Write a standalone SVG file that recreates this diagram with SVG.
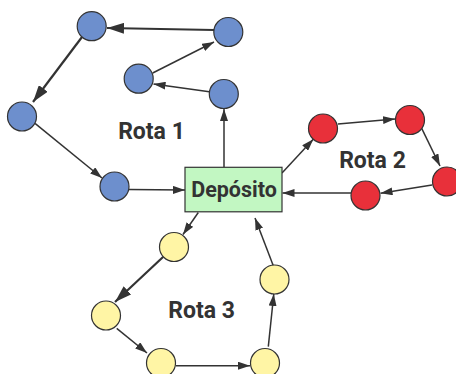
<svg xmlns="http://www.w3.org/2000/svg" width="456" height="374" viewBox="0 0 456 374">
  <style>
    .node { stroke: #333; stroke-width: 1.2; }
    .blue { fill: #6d8fcd; }
    .red { fill: #e8303a; }
    .yellow { fill: #fff5a5; }
    .depot { fill: #c2f7c2; stroke: #333; stroke-width: 1.2; }
    .edge { fill: none; stroke: #333; stroke-width: 1.5; marker-end: url(#arrow); }
    .edge.bold { stroke-width: 2.2; marker-end: url(#arrow-big); }
    .label { font-family: Roboto, "Liberation Sans", sans-serif; font-weight: bold; fill: #333; }
  </style>
  <defs>
    <marker id="arrow" markerUnits="userSpaceOnUse" markerWidth="12" markerHeight="8" refX="12" refY="4" orient="auto">
      <path d="M0,0 L12,4 L0,8 z" fill="#333"/>
    </marker>
    <marker id="arrow-big" markerUnits="userSpaceOnUse" markerWidth="17" markerHeight="11" refX="17" refY="5.5" orient="auto">
      <path d="M0,0 L17,5.5 L0,11 z" fill="#333"/>
    </marker>
  </defs>

  <rect width="456" height="374" fill="#fff"/>

  <g id="connectors">
    <!-- Rota 1 (blue) -->
    <line class="edge" x1="224" y1="167" x2="224" y2="109"/>
    <line class="edge" x1="209.3" y1="91.7" x2="153.5" y2="84"/>
    <line class="edge" x1="152.7" y1="73" x2="214" y2="42"/>
    <line class="edge bold" x1="214" y1="30" x2="107" y2="28"/>
    <line class="edge bold" x1="82" y1="37" x2="33" y2="102"/>
    <line class="edge" x1="35" y1="123.3" x2="102" y2="178"/>
    <line class="edge" x1="129" y1="189.5" x2="185" y2="190"/>
    <!-- Rota 2 (red) -->
    <line class="edge" x1="282" y1="173" x2="313.3" y2="139.3"/>
    <line class="edge" x1="338" y1="124" x2="395" y2="119"/>
    <line class="edge" x1="421.7" y1="128.3" x2="440" y2="166"/>
    <line class="edge" x1="432" y1="185" x2="380.5" y2="193.3"/>
    <line class="edge" x1="351" y1="193" x2="282.5" y2="193"/>
    <!-- Rota 3 (yellow) -->
    <line class="edge" x1="198.3" y1="212.5" x2="183" y2="234.5"/>
    <line class="edge bold" x1="163.3" y1="256.7" x2="115" y2="302"/>
    <line class="edge" x1="116.7" y1="328.3" x2="147" y2="353"/>
    <line class="edge" x1="176" y1="365.7" x2="250" y2="365.7"/>
    <line class="edge" x1="268.3" y1="346.7" x2="273.8" y2="294"/>
    <line class="edge" x1="273.3" y1="265.7" x2="255" y2="218"/>
  </g>

  <g id="depot">
    <rect class="depot" x="185" y="167.3" width="97" height="44.5"/>
    <text class="label" x="234" y="197.2" font-size="21.5" text-anchor="middle">Depósito</text>
  </g>

  <g id="rota1">
    <circle id="b1" class="node blue" cx="91.7" cy="26.2" r="14.5"/>
    <circle id="b2" class="node blue" cx="228.3" cy="32" r="14.5"/>
    <circle id="b3" class="node blue" cx="138.7" cy="78.7" r="14.5"/>
    <circle id="b4" class="node blue" cx="223.8" cy="94" r="14.5"/>
    <circle id="b5" class="node blue" cx="22" cy="116.5" r="14.5"/>
    <circle id="b6" class="node blue" cx="114.5" cy="186.5" r="14.5"/>
    <text class="label" x="151.5" y="139.3" font-size="23" text-anchor="middle">Rota 1</text>
  </g>

  <g id="rota2">
    <circle id="r1" class="node red" cx="323" cy="128.5" r="14.5"/>
    <circle id="r2" class="node red" cx="410" cy="120" r="14.5"/>
    <circle id="r3" class="node red" cx="447" cy="181.5" r="14.5"/>
    <circle id="r4" class="node red" cx="365.5" cy="195.5" r="14.5"/>
    <text class="label" x="372.5" y="168.3" font-size="23" text-anchor="middle">Rota 2</text>
  </g>

  <g id="rota3">
    <circle id="y1" class="node yellow" cx="174" cy="247" r="14.5"/>
    <circle id="y2" class="node yellow" cx="106" cy="315.5" r="14.5"/>
    <circle id="y3" class="node yellow" cx="161" cy="363" r="14.5"/>
    <circle id="y4" class="node yellow" cx="265" cy="363" r="14.5"/>
    <circle id="y5" class="node yellow" cx="274.5" cy="279.5" r="14.5"/>
    <text class="label" x="201.7" y="318" font-size="23" text-anchor="middle">Rota 3</text>
  </g>
</svg>
